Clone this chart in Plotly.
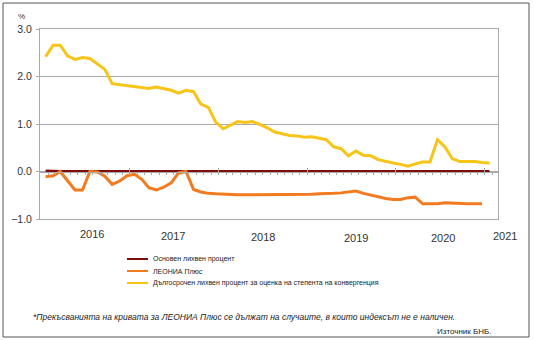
import plotly.graph_objects as go

# ---------------- data ----------------
months = [f"{2016 + i // 12}-{i % 12 + 1:02d}-20" for i in range(61)]  # Jan 2016 .. Jan 2021

series_names = [
    "Основен лихвен процент",
    "ЛЕОНИА Плюс",
    "Дългосрочен лихвен процент за оценка на степента на конвергенция",
]

base_rate = [0.01, 0.00, 0.00, 0.00, 0.00, 0.00, 0.00, 0.00, 0.00, 0.00,
             0.00, 0.00, 0.00, 0.00, 0.00, 0.00, 0.00, 0.00, 0.00, 0.00,
             0.00, 0.00, 0.00, 0.00, 0.00, 0.00, 0.00, 0.00, 0.00, 0.00,
             0.00, 0.00, 0.00, 0.00, 0.00, 0.00, 0.00, 0.00, 0.00, 0.00,
             0.00, 0.00, 0.00, 0.00, 0.00, 0.00, 0.00, 0.00, 0.00, 0.00,
             0.00, 0.00, 0.00, 0.00, 0.00, 0.00, 0.00, 0.00, 0.00, 0.00,
             0.00]

leonia_plus = [-0.11, -0.09, 0.00, -0.21, -0.39, -0.39, 0.00, -0.01, -0.10, -0.27,
               -0.20, -0.09, -0.06, -0.17, -0.34, -0.39, -0.33, -0.24, -0.03, 0.00,
               -0.38, -0.43, -0.46, -0.47, -0.48, -0.49, -0.49, -0.49, -0.49, -0.49,
               -0.49, -0.49, -0.49, -0.49, -0.49, -0.48, -0.48, -0.47, -0.47, -0.46,
               -0.45, -0.43, -0.41, -0.46, -0.50, -0.54, -0.57, -0.59, -0.59, -0.55,
               -0.54, -0.68, -0.68, -0.68, -0.66, -0.67, -0.68, -0.68, -0.68, -0.68,
               None]

long_term = [2.42, 2.66, 2.66, 2.43, 2.36, 2.40, 2.38, 2.27, 2.15, 1.85,
             1.83, 1.80, 1.78, 1.76, 1.75, 1.78, 1.75, 1.71, 1.65, 1.71,
             1.68, 1.42, 1.35, 1.04, 0.90, 0.97, 1.05, 1.03, 1.05, 0.99,
             0.92, 0.83, 0.79, 0.76, 0.75, 0.72, 0.73, 0.69, 0.67, 0.52,
             0.48, 0.33, 0.43, 0.34, 0.33, 0.25, 0.21, 0.18, 0.15, 0.11,
             0.16, 0.20, 0.20, 0.67, 0.52, 0.27, 0.21, 0.21, 0.21, 0.19,
             0.18]

year_labels = ["2016", "2017", "2018", "2019", "2020", "2021"]
y_ticks = [-1.0, 0.0, 1.0, 2.0, 3.0]

colors = ["#7E0E0E", "#F27A1F", "#F7C417"]
font_family = "Liberation Sans, Arial, sans-serif"

# ---------------- figure ----------------
fig = go.Figure()
for name, vals, col in zip(series_names, [base_rate, leonia_plus, long_term], colors):
    fig.add_trace(go.Scatter(x=months, y=vals, name=name, mode="lines",
                             line=dict(color=col, width=3), connectgaps=False,
                             showlegend=False, xaxis="x", yaxis="y"))

x_range = ["2015-12-28", "2021-02-24"]
grid = "#A9A9A9"

fig.update_layout(
    width=534, height=340, autosize=False,
    margin=dict(l=40, r=36, t=29, b=121),
    paper_bgcolor="white", plot_bgcolor="white",
    font=dict(family=font_family, color="#333333"),
    xaxis=dict(type="date", range=x_range, showgrid=False, zeroline=False,
               showline=True, mirror=True, linecolor=grid, linewidth=1,
               ticks="", showticklabels=False),
    xaxis2=dict(type="date", range=x_range, overlaying="x", anchor="free", position=0.25,
                showgrid=False, zeroline=False, showline=True, linecolor=grid,
                tick0="2016-01-01", dtick="M12", ticks="inside", ticklen=4,
                tickcolor=grid, showticklabels=False,
                minor=dict(dtick="M1", ticks="outside", ticklen=2, tickcolor=grid)),
    yaxis=dict(range=[-1, 3], tickvals=y_ticks, tickformat=".1f",
               showgrid=True, gridcolor=grid, gridwidth=1, zeroline=False,
               showline=True, mirror=True, linecolor=grid, linewidth=1,
               ticks="outside", ticklen=3, tickcolor=grid, ticklabelstandoff=2,
               tickfont=dict(size=10.5, color="#333333")),
)

# dummy trace to activate the zero-line axis
fig.add_trace(go.Scatter(x=[months[0]], y=[None], xaxis="x2", yaxis="y",
                         showlegend=False, hoverinfo="skip"))

# ---------------- annotations ----------------
def px_x(p):
    return (p - 40) / 458.0

def px_y(p):
    return (219 - p) / 190.0

ann = []
ann.append(dict(text="%", x=px_x(21), y=px_y(16), xref="paper", yref="paper",
                xanchor="center", yanchor="middle",
                showarrow=False, font=dict(size=8, color="#333333")))

year_px = [(92, 234), (173, 236), (263, 237), (356, 238), (443, 238), (505, 236)]
for lab, (xp, yp) in zip(year_labels, year_px):
    ann.append(dict(text=lab, x=px_x(xp), y=px_y(yp), xref="paper", yref="paper",
                    xanchor="center", yanchor="middle",
                    showarrow=False, font=dict(size=11, color="#333333")))

# manual legend
shapes = []
leg_rows = [259, 271, 283]
for name, col, yp in zip(series_names, colors, leg_rows):
    shapes.append(dict(type="line", xref="paper", yref="paper",
                       x0=px_x(127), x1=px_x(148), y0=px_y(yp), y1=px_y(yp),
                       line=dict(color=col, width=2)))
    ann.append(dict(text=name, x=px_x(151), y=px_y(yp), xref="paper", yref="paper",
                    xanchor="left", yanchor="middle", showarrow=False,
                    font=dict(size=7, color="#222222")))

ann.append(dict(text="<i>*Прекъсванията на кривата за ЛЕОНИА Плюс се дължат на случаите, в които индексът не е наличен.</i>",
                x=px_x(31), y=px_y(317), xref="paper", yref="paper",
                xanchor="left", yanchor="middle", showarrow=False,
                font=dict(size=8.5, color="#222222")))
ann.append(dict(text="Източник БНБ.", x=px_x(494), y=px_y(331), xref="paper", yref="paper",
                xanchor="right", yanchor="middle", showarrow=False,
                font=dict(size=8, color="#222222")))

# outer frame
shapes.append(dict(type="rect", xref="paper", yref="paper",
                   x0=px_x(3), x1=px_x(529), y0=px_y(337), y1=px_y(3),
                   line=dict(color="#555555", width=1), fillcolor="rgba(0,0,0,0)", layer="below"))

fig.update_layout(annotations=ann, shapes=shapes)

fig.write_html("out.html")
